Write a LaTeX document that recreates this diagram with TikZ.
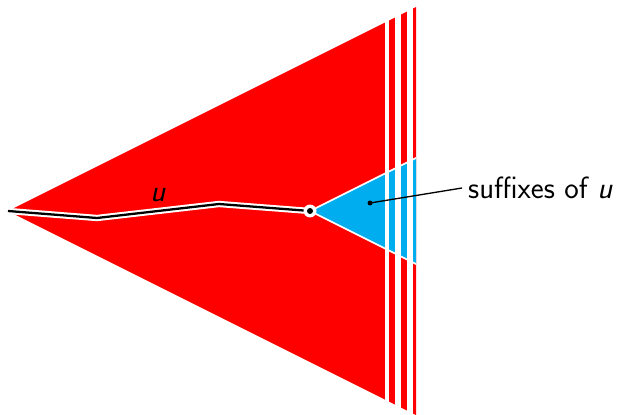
\documentclass[tikz,border=0pt]{standalone}
\usetikzlibrary{positioning}
\definecolor{suffblue}{RGB}{0,174,239}
\tikzset{
  lbl/.style={font=\sffamily\fontsize{17.5}{21}\selectfont},
  blob/.style={circle,inner sep=0pt,fill=#1},
}
\begin{document}
\begin{tikzpicture}[x=0.02cm,y=-0.02cm]
\useasboundingbox (0,0) rectangle (618,415);
\coordinate (apex) at (8,211);
\coordinate (tip) at (310,211);
\coordinate (p1) at (97,218);
\coordinate (p2) at (219,204);
% the tree of all words, cut off on the right
\begin{scope}
  \clip (0,0) rectangle (416,415);
  \fill[red] (apex) -- (430,0) -- (430,422) -- cycle;
  \filldraw[fill=suffblue,draw=white,line width=0.9pt] (tip) -- (430,151) -- (430,271) -- cycle;
  \foreach \x/\w in {386.8/4.5,397.8/6,410/6}
    \draw[white,line width=\w*0.569pt] (\x,0) -- (\x,415);
\end{scope}
% the word u
\draw[white,line width=3.6pt,line join=round] (apex) -- (p1) -- (p2) -- (tip);
\draw[black,line width=1.3pt] (apex) -- (p1) -- (p2) -- (tip);
\node[blob=white,minimum size=0.26cm] (tipring) at (tip) {};
\node[blob=black,minimum size=0.12cm] (tipdot) at (tip) {};
\node[lbl] (ulab) at (158,195) {\textit{u}};
% label
\node[blob=black,minimum size=0.1cm] (sdot) at (370,203) {};
\node[lbl,anchor=west] (suff) at (462,188) {suffixes of \textit{u}};
\draw[line width=0.75pt] (sdot.center) -- (suff.west);
\end{tikzpicture}
\end{document}
